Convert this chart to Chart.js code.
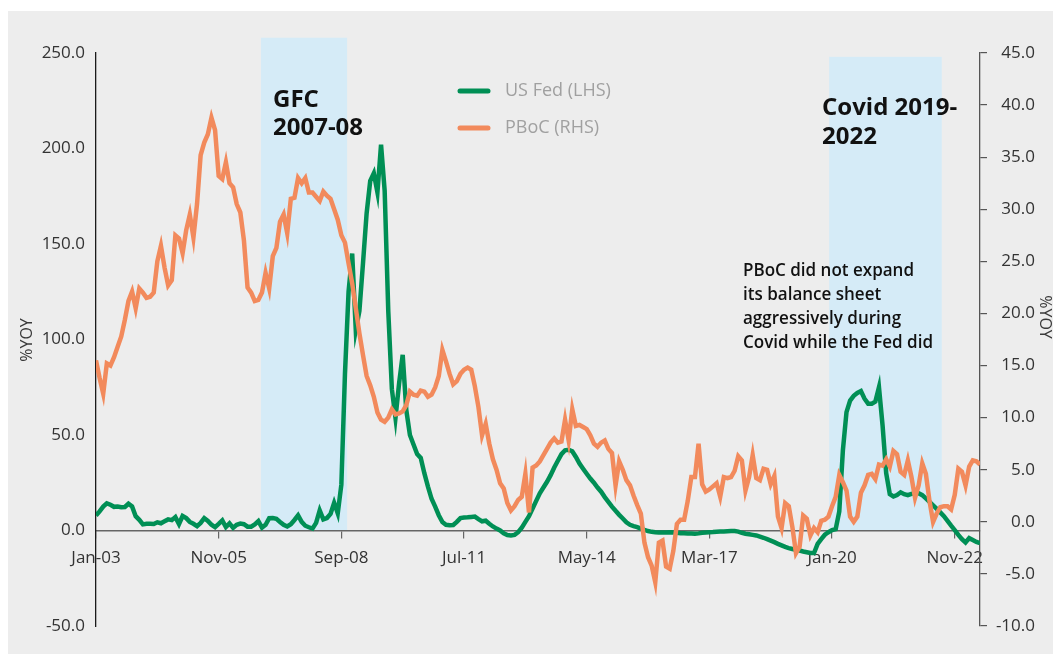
<!DOCTYPE html>
<html>
<head>
<meta charset="utf-8">
<script src="https://cdn.jsdelivr.net/npm/chart.js@4.4.1/dist/chart.umd.min.js"></script>
<style>
  html, body { margin: 0; padding: 0; background: #fff; }
  canvas { display: block; }
</style>
</head>
<body>
<canvas id="chart" width="1053" height="655"></canvas>
<script>
/* ── Data (monthly, index 0 = Jan-03) ───────────────── */
const tickMonths = [0, 34, 68, 102, 136, 170, 204, 238];
const tickLabels = ['Jan-03', 'Nov-05', 'Sep-08', 'Jul-11', 'May-14', 'Mar-17', 'Jan-20', 'Nov-22'];

// US Fed balance sheet, %YoY (LHS)
const fedYoY = [
  7.9, 10, 12.5, 14.2, 13.5, 12.4, 12.6, 12.2, 12.3, 14,
  12.6, 7.5, 5.6, 3.2, 3.5, 3.5, 3.4, 4.3, 3.8, 4.8,
  5.8, 5.4, 7.0, 3.4, 7.6, 6.5, 4.5, 3.5, 2.3, 4.0,
  6.5, 5.0, 3.0, 1.8, 3.5, 5.3, 1.8, 3.7, 1.4, 3.0,
  3.6, 3.3, 2.0, 2.0, 3.2, 4.9, 1.5, 3.0, 6.4, 6.5,
  6.1, 4.5, 3.0, 2.1, 3.3, 5.5, 7.9, 4.5, 2.5, 1.7,
  1.0, 4.0, 10.5, 5.8, 6.5, 8.7, 14.5, 9.0, 24, 82,
  125, 145, 105, 115, 140, 166, 183, 187, 177, 202,
  178, 115, 74, 59, 77, 92, 63, 50, 45, 40,
  38, 30, 23, 16.6, 12.5, 8.0, 4.4, 3.0, 2.7, 2.9,
  4.5, 6.5, 6.8, 6.9, 7.1, 7.3, 6.0, 4.8, 5.1, 3.5,
  2.1, 1.0, 0, -1.5, -2.4, -2.6, -2.3, -0.9, 1.5, 4.5,
  7.5, 11.5, 15.5, 19.5, 22.5, 25.5, 29, 33, 36.5, 40,
  42, 42.3, 41.5, 38.5, 35, 32.3, 29.7, 27.2, 25, 22.5,
  20.3, 17.5, 15, 12.5, 10.3, 8.2, 6.3, 4.3, 3.0, 2.3,
  1.8, 1.0, 0.3, -0.3, -0.7, -0.9, -1.0, -1.0, -1.0, -0.9,
  -1.0, -1.2, -1.4, -1.4, -1.6, -1.6, -1.7, -1.5, -1.2, -1.0,
  -0.9, -0.8, -0.6, -0.5, -0.5, -0.4, -0.3, -0.3, -0.6, -1.2,
  -1.7, -2.0, -2.3, -2.6, -3.2, -3.8, -4.5, -5.3, -6.1, -7.0,
  -7.8, -8.6, -9.2, -9.7, -10.1, -10.5, -11.0, -11.4, -11.8, -11.8,
  -7.0, -4.5, -2.2, -0.9, 0.2, 0.7, 10, 42, 62, 68,
  70.5, 72, 73, 69, 66.4, 66.4, 67.5, 75, 55, 30,
  19, 17.8, 18.6, 20, 19, 18.5, 19.2, 19.5, 19.5, 18.5,
  16.8, 15, 13.2, 11.3, 9.5, 7.5, 5.0, 2.5, 0.2, -2.3,
  -4.5, -6.3, -4.0, -5.0, -6.0, -6.6,
];

// PBoC balance sheet, %YoY (RHS)
const pbocYoY = [
  15.5, 13.8, 12.3, 15.2, 15.0, 15.8, 16.8, 17.8, 19.4, 21.2,
  22.1, 20.5, 22.4, 22.0, 21.5, 21.6, 22.0, 25.0, 26.5, 24.4,
  22.7, 23.2, 27.5, 27.2, 25.8, 28.0, 29.5, 27.3, 30.5, 35.2,
  36.4, 37.2, 38.8, 37.6, 33.2, 32.9, 34.5, 32.5, 32.1, 30.5,
  29.7, 27.0, 22.5, 22.0, 21.2, 21.3, 22.0, 23.9, 22.4, 25.5,
  26.3, 28.8, 29.5, 27.7, 31.0, 31.1, 33.0, 32.5, 33.0, 31.6,
  31.6, 31.2, 30.8, 31.7, 31.3, 31.0, 30.0, 29.0, 27.5, 26.8,
  24.8, 22.9, 20.5, 18.1, 16.0, 14.0, 13.1, 12.0, 10.5, 9.8,
  9.6, 10.0, 10.8, 10.3, 10.4, 10.6, 11.2, 12.5, 12.2, 12.1,
  12.6, 12.5, 12.0, 12.2, 12.9, 14.0, 16.5, 15.4, 14.2, 13.2,
  13.5, 14.2, 14.6, 14.8, 14.6, 13.0, 11.0, 8.3, 9.4, 7.5,
  6.0, 5.0, 3.7, 3.2, 1.8, 1.1, 1.5, 2.1, 2.4, 4.6,
  0.9, 5.2, 5.4, 5.8, 6.4, 7.0, 7.6, 8.0, 7.6, 7.7,
  9.8, 7.8, 10.8, 9.2, 9.3, 9.1, 8.9, 8.3, 7.5, 7.2,
  7.6, 7.8, 7.0, 6.6, 3.5, 5.8, 5.0, 4.0, 3.5, 2.5,
  1.6, 0.8, -2.0, -3.4, -4.2, -5.8, -2.0, -1.8, -4.3, -4.5,
  -2.8, -0.2, 0.2, 0.2, 2.0, 4.3, 4.3, 7.5, 3.6, 2.9,
  3.1, 3.4, 3.7, 2.4, 4.3, 4.2, 4.3, 4.9, 6.3, 5.9,
  3.0, 4.3, 6.4, 4.2, 4.0, 5.1, 5.0, 3.6, 4.4, 0.5,
  -0.6, 1.8, 1.5, -0.5, -3.0, -2.4, 0.6, 0.3, -1.3, -0.6,
  -1.0, 0.1, 0.2, 0.5, 1.5, 2.4, 4.5, 3.8, 3.0, 0.5,
  0, 0.5, 2.8, 3.5, 4.5, 4.6, 4.1, 5.5, 5.4, 6.0,
  5.3, 6.8, 6.5, 4.8, 4.5, 5.9, 4.3, 2.3, 3.5, 5.6,
  4.6, 2.0, 0.0, 0.8, 1.4, 1.5, 1.5, 1.2, 2.6, 5.1,
  4.8, 3.5, 5.3, 5.9, 5.8, 5.5,
];

// shaded crisis periods (month index) and top in LHS units
const shadeNames = ['GFC', 'Covid'];
const shadeFrom  = [45.7, 203.2];
const shadeTo    = [69.6, 234.4];
const shadeTop   = [258, 248];

/* ── Styling ────────────────────────────────────────── */
const GREEN  = '#008f55';
const ORANGE = '#f28a5c';
const SHADE  = '#d5ebf7';
const BG     = '#ededed';
const TICK_FONT = { family: '"Open Sans", sans-serif', size: 17, weight: '400' };

const toXY = arr => arr.map((v, i) => ({ x: i, y: v }));

/* ── Plugins: background, bands, text ───────────────── */
const decor = {
  id: 'decor',
  beforeDraw(chart) {
    const { ctx, scales: { x, y } } = chart;
    ctx.save();
    ctx.fillStyle = '#fff';
    ctx.fillRect(0, 0, chart.width, chart.height);
    ctx.fillStyle = BG;
    ctx.fillRect(8, 11, chart.width - 8, chart.height - 12);
    ctx.fillStyle = SHADE;
    shadeFrom.forEach((from, i) => {
      const x0 = x.getPixelForValue(from), x1 = x.getPixelForValue(shadeTo[i]);
      const y0 = y.getPixelForValue(shadeTop[i]), y1 = y.getPixelForValue(0);
      ctx.fillRect(x0, y0, x1 - x0, y1 - y0);
    });
    ctx.restore();
  },
  afterDraw(chart) {
    const { ctx } = chart;
    ctx.save();
    ctx.textBaseline = 'middle';

    // axis titles
    ctx.fillStyle = '#3a3a3a';
    ctx.font = '400 16px "Open Sans", sans-serif';
    ctx.textAlign = 'center';
    ctx.save(); ctx.translate(27, 340); ctx.rotate(-Math.PI / 2); ctx.fillText('%YOY', 0, 0); ctx.restore();
    ctx.save(); ctx.translate(1045, 317); ctx.rotate(Math.PI / 2); ctx.fillText('%YOY', 0, 0); ctx.restore();

    // legend
    ctx.textAlign = 'left';
    chart.data.datasets.slice().sort((a, b) => b.order - a.order).forEach((ds, i) => {
      const ly = 91 + i * 37;
      ctx.strokeStyle = ds.borderColor;
      ctx.lineWidth = 5;
      ctx.lineCap = 'round';
      ctx.beginPath(); ctx.moveTo(460, ly); ctx.lineTo(488, ly); ctx.stroke();
      ctx.fillStyle = '#a0a0a0';
      ctx.font = '400 18px "Open Sans", sans-serif';
      ctx.fillText(ds.label, 505, ly);
    });

    // period labels
    ctx.fillStyle = '#111';
    ctx.font = '700 24px "Open Sans", sans-serif';
    ctx.fillText('GFC', 273, 100);
    ctx.fillText('2007-08', 273, 128);
    ctx.fillText('Covid 2019-', 822, 108);
    ctx.fillText('2022', 822, 137);

    // note
    const note = ['PBoC did not expand', 'its balance sheet', 'aggressively during', 'Covid while the Fed did'];
    ctx.font = '600 18px "Open Sans", sans-serif';
    const sx = 171 / ctx.measureText(note[0]).width;
    ctx.save();
    ctx.translate(743, 0);
    ctx.scale(sx, 1);
    note.forEach((t, i) => ctx.fillText(t, 0, 271 + i * 24));
    ctx.restore();

    ctx.restore();
  },
};

/* ── Chart ──────────────────────────────────────────── */
new Chart(document.getElementById('chart'), {
  type: 'line',
  data: {
    datasets: [
      {
        label: 'US Fed (LHS)',
        data: toXY(fedYoY),
        yAxisID: 'y',
        borderColor: GREEN,
        borderWidth: 4.5,
        pointRadius: 0,
        tension: 0,
        order: 2,
      },
      {
        label: 'PBoC (RHS)',
        data: toXY(pbocYoY),
        yAxisID: 'y1',
        borderColor: ORANGE,
        borderWidth: 4.5,
        pointRadius: 0,
        tension: 0,
        order: 1,
      },
    ],
  },
  options: {
    responsive: false,
    animation: false,
    layout: { padding: { top: 53, bottom: 29, left: 0, right: 18 } },
    plugins: { legend: { display: false }, tooltip: { enabled: false } },
    scales: {
      x: {
        type: 'linear',
        position: { y: 0 },
        min: 0,
        max: fedYoY.length - 1,
        afterFit: s => { s.height = 0; },
        afterBuildTicks: s => { s.ticks = tickMonths.map(v => ({ value: v })); },
        ticks: {
          autoSkip: false,
          maxRotation: 0,
          padding: 10,
          color: '#333',
          font: TICK_FONT,
          callback: v => tickLabels[tickMonths.indexOf(v)] ?? '',
        },
        grid: { drawOnChartArea: false, drawTicks: true, tickLength: 7, color: '#666', lineWidth: 1.2 },
        border: { display: true, color: '#666', width: 1.5 },
      },
      y: {
        position: 'left',
        min: -50,
        max: 250,
        afterFit: s => { s.width = 96; },
        ticks: {
          stepSize: 50,
          padding: 11,
          color: '#333',
          font: TICK_FONT,
          callback: v => v.toFixed(1),
        },
        grid: { drawOnChartArea: false, drawTicks: false },
        border: { display: true, color: '#1a1a1a', width: 1.3 },
      },
      y1: {
        position: 'right',
        min: -10,
        max: 45,
        afterFit: s => { s.width = 55; },
        ticks: {
          stepSize: 5,
          padding: 5,
          crossAlign: 'far',
          color: '#333',
          font: TICK_FONT,
          callback: v => v.toFixed(1),
        },
        grid: { drawOnChartArea: false, drawTicks: true, tickLength: 7, color: '#555', lineWidth: 1.2 },
        border: { display: true, color: '#555', width: 1.3 },
      },
    },
  },
  plugins: [decor],
});
</script>
</body>
</html>
